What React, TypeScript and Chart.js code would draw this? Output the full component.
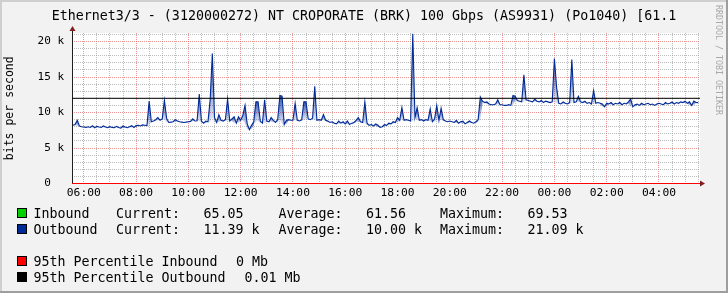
import React, { useEffect, useRef } from "react";
import { Chart, registerables } from "chart.js";

Chart.register(...registerables);

// ---------- data ----------
const TITLE = "Ethernet3/3 - (3120000272) NT CROPORATE (BRK) 100 Gbps (AS9931) (Po1040) [61.1";
const Y_TITLE = "bits per second";
const WATERMARK = "RRDTOOL / TOBI OETIKER";

// sample times in hours (5-minute samples, first at 05:35)
const START_HOUR = 5 + 35 / 60;
const STEP_HOURS = 5 / 60;
const X_MIN = 5.549;
const X_MAX = 29.569;
const Y_MAX = 21200;

// Outbound bits per second, 5-minute samples
const outboundBits = [
  8200, 8300, 8900, 8100, 8000, // 05:35-05:55
  7950, 7900, 8000, 7900, 8150, 7850, 8050, 7950, 7900, 8100, 7950, 7850, // 06
  8000, 7900, 7850, 8050, 7900, 7800, 8100, 7950, 7850, 8000, 8150, 7900, // 07
  8150, 8200, 8100, 8250, 8200, 8150, 11600, 8700, 8800, 9000, 9300, 8900, // 08
  9100, 11700, 9200, 8600, 8650, 8700, 9000, 8800, 8700, 8650, 8600, 8650, // 09
  8700, 8750, 9100, 8800, 8850, 12600, 8800, 8500, 8800, 8700, 11800, 18300, // 10
  9300, 8600, 9700, 8900, 8800, 9000, 11900, 8800, 9100, 9400, 8500, 9400, // 11
  8900, 9600, 11000, 8400, 7600, 8200, 8700, 11500, 11500, 8800, 8500, 11800, // 12
  8800, 8700, 9300, 8900, 8600, 9000, 12400, 12300, 8300, 8900, 9000, 8900, // 13
  8900, 11300, 8900, 8800, 8950, 11500, 11500, 9100, 9000, 9200, 13700, 8900, // 14
  9000, 8900, 9700, 8900, 8800, 8600, 8700, 8500, 8400, 8800, 8500, 8700, // 15
  8400, 8800, 8300, 8500, 8600, 8900, 9300, 8700, 8600, 11500, 8500, 8200, // 16
  8300, 8100, 8400, 8200, 7900, 8000, 8300, 8200, 8500, 8400, 8700, 8600, // 17
  9300, 8900, 10700, 8900, 9000, 8900, 8800, 21090, 9300, 10700, 8900, 9000, // 18
  8800, 9000, 8900, 10500, 8700, 9100, 11000, 8900, 10600, 9000, 8800, 8700, // 19
  8800, 8700, 8600, 8900, 8500, 8700, 8800, 8400, 8600, 8800, 8600, 8500, // 20
  8700, 9000, 12200, 11600, 11400, 11500, 11200, 11100, 11100, 11200, 11800, 11100, // 21
  11100, 11000, 11000, 11100, 11000, 12400, 12300, 11700, 11600, 11500, 15300, 11800, // 22
  11700, 11600, 11500, 11900, 11600, 11500, 11700, 11400, 11600, 11500, 11400, 11500, // 23
  17600, 13600, 11300, 11200, 11500, 11300, 11200, 11400, 17450, 11400, 11500, 12300, // 00
  11500, 11400, 11600, 11300, 11400, 11200, 13100, 11300, 11400, 11300, 11200, 10800, // 01
  11300, 11200, 11400, 11100, 11300, 11200, 11400, 11100, 11300, 11200, 11500, 11900, // 02
  10800, 11100, 11200, 11000, 11300, 11100, 11200, 11300, 11100, 11200, 11000, 11200, // 03
  11300, 11200, 11100, 11400, 11200, 11300, 11500, 11200, 11400, 11300, 11500, 11400, // 04
  11600, 11300, 11500, 11000, 11600, 11400, 11390, // 05:00-05:30
];

// Inbound bits per second, hourly samples from 05:35 (too small to be visible, as in the original)
const INBOUND_STEP_HOURS = 1;
const inboundBits = [
  62, 60, 58, 61, 63, 59, 60, 62, 64, 61, 58, 60,
  63, 62, 59, 61, 69.53, 60, 62, 64, 61, 63, 62, 65.05,
];

const p95Labels = ["95th Percentile Inbound", "95th Percentile Outbound"];
const p95Texts = ["0 Mb", "0.01 Mb"];
const p95Values = [0, 12000];
const p95Colors = ["#FF0000", "#000000"];

const seriesNames = ["Inbound", "Outbound"];
const seriesColors = ["#00CF00", "#002A97"];
const currentTexts = ["65.05", "11.39 k"];
const averageTexts = ["61.56", "10.00 k"];
const maximumTexts = ["69.53", "21.09 k"];

// x ticks every 30 minutes (hours), labelled every 2 hours
const xTickHours = [
  6, 6.5, 7, 7.5, 8, 8.5, 9, 9.5, 10, 10.5, 11, 11.5, 12, 12.5, 13, 13.5, 14, 14.5, 15, 15.5,
  16, 16.5, 17, 17.5, 18, 18.5, 19, 19.5, 20, 20.5, 21, 21.5, 22, 22.5, 23, 23.5, 24, 24.5,
  25, 25.5, 26, 26.5, 27, 27.5, 28, 28.5, 29, 29.5,
];
const timeTickLabels = ["06:00", "08:00", "10:00", "12:00", "14:00", "16:00", "18:00", "20:00", "22:00", "00:00", "02:00", "04:00"];
// y ticks every 1 k, labelled every 5 k
const yTickValues = [
  0, 1000, 2000, 3000, 4000, 5000, 6000, 7000, 8000, 9000, 10000, 11000, 12000, 13000, 14000,
  15000, 16000, 17000, 18000, 19000, 20000, 21000,
];
const yTickLabels = ["0  ", "5 k", "10 k", "15 k", "20 k"];

// ---------- styles ----------
const MONO = "'DejaVu Sans Mono', monospace";
const MAJOR_GRID = "rgba(222,79,79,0.6)";
const MINOR_GRID = "rgba(143,143,143,0.6)";

const near = (a: number, b: number) => Math.abs(a - b) < 1e-6;

const spikeShade = {
  id: "spikeShade",
  beforeDatasetDraw(chart: any, args: any) {
    const ds = chart.data.datasets[args.index];
    if (ds.label !== "Outbound") return;
    const pts = args.meta.data as any[];
    const { ctx, chartArea: a } = chart;
    const n = pts.length;
    const floor = pts.map((p, i) =>
      Math.max(p.y, pts[Math.max(0, i - 1)].y, pts[Math.min(n - 1, i + 1)].y)
    );
    ctx.save();
    ctx.beginPath();
    ctx.rect(a.left, a.top, a.right - a.left, a.bottom - a.top);
    ctx.clip();
    for (let i = 0; i < n - 1; i++) {
      const p = pts[i];
      const q = pts[i + 1];
      const top = Math.min(p.y, q.y);
      const bot = Math.max(floor[i], floor[i + 1]);
      if (bot - top < 1.5) continue;
      const g = ctx.createLinearGradient(0, top, 0, bot);
      g.addColorStop(0, "rgba(0,42,151,0.8)");
      g.addColorStop(1, "rgba(0,42,151,0.1)");
      ctx.fillStyle = g;
      ctx.beginPath();
      ctx.moveTo(p.x, p.y);
      ctx.lineTo(q.x, q.y);
      ctx.lineTo(q.x, floor[i + 1]);
      ctx.lineTo(p.x, floor[i]);
      ctx.closePath();
      ctx.fill();
    }
    ctx.restore();
  },
};

const deco = {
  id: "deco",
  beforeDraw(chart: any) {
    const { ctx, width, height, chartArea: a } = chart;
    ctx.save();
    ctx.fillStyle = "#F2F2F2";
    ctx.fillRect(0, 0, width, height);
    ctx.fillStyle = "#CFCFCF";
    ctx.fillRect(0, 0, width, 2);
    ctx.fillRect(0, 0, 2, height);
    ctx.fillStyle = "#9E9E9E";
    ctx.fillRect(0, height - 2, width, 2);
    ctx.fillRect(width - 2, 0, 2, height);
    ctx.fillStyle = "#FFFFFF";
    ctx.fillRect(a.left, a.top, a.right - a.left, Math.floor(a.bottom) - a.top);
    ctx.restore();
  },
  beforeDatasetsDraw(chart: any) {
    const { ctx, chartArea: a } = chart;
    ctx.save();
    ctx.fillStyle = "#1F1F1F";
    ctx.fillRect(Math.round(a.left), Math.round(a.top) - 4, 1, Math.floor(a.bottom) - Math.round(a.top) + 4);
    ctx.restore();
  },
  afterDraw(chart: any) {
    const { ctx, width, chartArea: a } = chart;
    ctx.save();
    // arrows
    ctx.fillStyle = "#801F1F";
    const ax = Math.round(a.left) + 0.5;
    const top = Math.round(a.top);
    ctx.beginPath();
    ctx.moveTo(ax, top - 7);
    ctx.lineTo(ax - 3, top - 2);
    ctx.lineTo(ax + 3, top - 2);
    ctx.closePath();
    ctx.fill();
    const ay = Math.floor(a.bottom) + 0.5;
    ctx.beginPath();
    ctx.moveTo(a.right + 5, ay);
    ctx.lineTo(a.right, ay - 3);
    ctx.lineTo(a.right, ay + 3);
    ctx.closePath();
    ctx.fill();

    // title
    ctx.fillStyle = "#000";
    ctx.font = `13.3px ${MONO}`;
    ctx.textAlign = "center";
    ctx.textBaseline = "alphabetic";
    ctx.fillText(TITLE, width / 2, 19.5);

    // y title
    ctx.save();
    ctx.translate(10.5, (a.top + a.bottom) / 2);
    ctx.rotate(-Math.PI / 2);
    ctx.font = `11.5px ${MONO}`;
    ctx.textAlign = "center";
    ctx.textBaseline = "middle";
    ctx.fillText(Y_TITLE, 0, 0);
    ctx.restore();

    // watermark
    ctx.save();
    ctx.translate(718.5, 5);
    ctx.rotate(Math.PI / 2);
    ctx.font = `8.3px ${MONO}`;
    ctx.fillStyle = "#A8A8A8";
    ctx.textAlign = "left";
    ctx.textBaseline = "middle";
    ctx.fillText(WATERMARK, 0, 0);
    ctx.restore();

    // legend
    ctx.font = `13.3px ${MONO}`;
    ctx.textAlign = "left";
    ctx.textBaseline = "alphabetic";
    const rowBase = [217.5, 233.5];
    for (let i = 0; i < seriesNames.length; i++) {
      const b = rowBase[i];
      ctx.fillStyle = seriesColors[i];
      ctx.fillRect(17, b - 9.5, 10, 10);
      ctx.strokeStyle = "#000";
      ctx.lineWidth = 1;
      ctx.strokeRect(17.5, b - 9, 9, 9);
      ctx.fillStyle = "#000";
      ctx.fillText(seriesNames[i], 33.5, b);
      ctx.fillText("Current:", 116, b);
      ctx.fillText(currentTexts[i], 203.5, b);
      ctx.fillText("Average:", 278.5, b);
      ctx.fillText(averageTexts[i], 366, b);
      ctx.fillText("Maximum:", 440, b);
      ctx.fillText(maximumTexts[i], 527.5, b);
    }
    const pBase = [265.5, 281.5];
    const pValX = [236, 244.5];
    for (let i = 0; i < p95Labels.length; i++) {
      const b = pBase[i];
      ctx.fillStyle = p95Colors[i];
      ctx.fillRect(17, b - 9.5, 10, 10);
      ctx.strokeStyle = "#000";
      ctx.strokeRect(17.5, b - 9, 9, 9);
      ctx.fillStyle = "#000";
      ctx.fillText(p95Labels[i], 33.5, b);
      ctx.fillText(p95Texts[i], pValX[i], b);
    }
    ctx.restore();
  },
};

export default function App() {
  const ref = useRef<HTMLCanvasElement | null>(null);

  useEffect(() => {
    if (!ref.current) return;
    const outData = outboundBits.map((v, i) => ({ x: START_HOUR + i * STEP_HOURS, y: v }));
    const inData = inboundBits.map((v, i) => ({ x: START_HOUR + i * INBOUND_STEP_HOURS, y: v }));
    const pLine = (v: number) => [
      { x: X_MIN, y: v },
      { x: X_MAX, y: v },
    ];

    const chart = new Chart(ref.current, {
      type: "line",
      data: {
        datasets: [
          {
            label: "95p Inbound",
            data: pLine(p95Values[0]),
            borderColor: p95Colors[0],
            borderWidth: 1,
            pointRadius: 0,
            clip: 1,
            order: 0,
          },
          {
            label: "95p Outbound",
            data: pLine(p95Values[1]),
            borderColor: p95Colors[1],
            borderWidth: 1,
            pointRadius: 0,
            order: 0,
          },
          {
            label: "Outbound",
            data: outData,
            borderColor: seriesColors[1],
            borderWidth: 1.1,
            pointRadius: 0,
            tension: 0,
            fill: false,
            order: 1,
          },
          {
            label: "Inbound",
            data: inData,
            borderColor: seriesColors[0],
            borderWidth: 1,
            pointRadius: 0,
            hidden: true,
            order: 2,
          },
        ],
      },
      options: {
        responsive: false,
        animation: false,
        devicePixelRatio: 1,
        layout: { padding: { left: 0, right: 28, top: 33, bottom: 0 } },
        plugins: { legend: { display: false }, tooltip: { enabled: false }, title: { display: false } },
        scales: {
          x: {
            type: "linear",
            min: X_MIN,
            max: X_MAX,
            afterFit: (s: any) => {
              s.height = 109.5;
            },
            afterBuildTicks: (s: any) => {
              s.ticks = xTickHours.map((v) => ({ value: v }));
            },
            // the 95th percentile inbound (0) coincides with the x axis
            border: { display: true, color: p95Colors[0], width: 1, dash: [1, 1] },
            grid: {
              drawTicks: false,
              lineWidth: 1,
              color: (c: any) => {
                const v = c.tick ? Number(c.tick.value) : NaN;
                return near(v / 2, Math.round(v / 2)) ? MAJOR_GRID : MINOR_GRID;
              },
            },
            ticks: {
              autoSkip: false,
              maxRotation: 0,
              minRotation: 0,
              padding: 2.5,
              color: "#000",
              font: { family: MONO, size: 11.3 },
              callback: (v: any) => {
                const h = Number(v);
                if (!near(h / 2, Math.round(h / 2))) return "";
                return timeTickLabels[Math.round((h - 6) / 2)] ?? "";
              },
            },
          },
          y: {
            type: "linear",
            min: 0,
            max: Y_MAX,
            afterFit: (s: any) => {
              s.width = 72;
            },
            afterBuildTicks: (s: any) => {
              s.ticks = yTickValues.map((v) => ({ value: v }));
            },
            border: { display: false, dash: [1, 1] },
            grid: {
              drawTicks: false,
              lineWidth: 1,
              color: (c: any) => {
                const v = c.tick ? Number(c.tick.value) : NaN;
                if (near(v, 0)) return "rgba(0,0,0,0)";
                return near(v / 5000, Math.round(v / 5000)) ? MAJOR_GRID : MINOR_GRID;
              },
            },
            ticks: {
              autoSkip: false,
              padding: 8,
              color: "#000",
              font: { family: MONO, size: 11 },
              callback: (v: any) => {
                const n = Number(v);
                if (!near(n / 5000, Math.round(n / 5000))) return "";
                return yTickLabels[Math.round(n / 5000)] ?? "";
              },
            },
          },
        },
      },
      plugins: [deco, spikeShade],
    } as any);

    return () => chart.destroy();
  }, []);

  return (
    <div style={{ position: "absolute", left: 0, top: 0, width: 728, height: 293 }}>
      <canvas ref={ref} width={728} height={293} style={{ display: "block", width: 728, height: 293 }} />
    </div>
  );
}
